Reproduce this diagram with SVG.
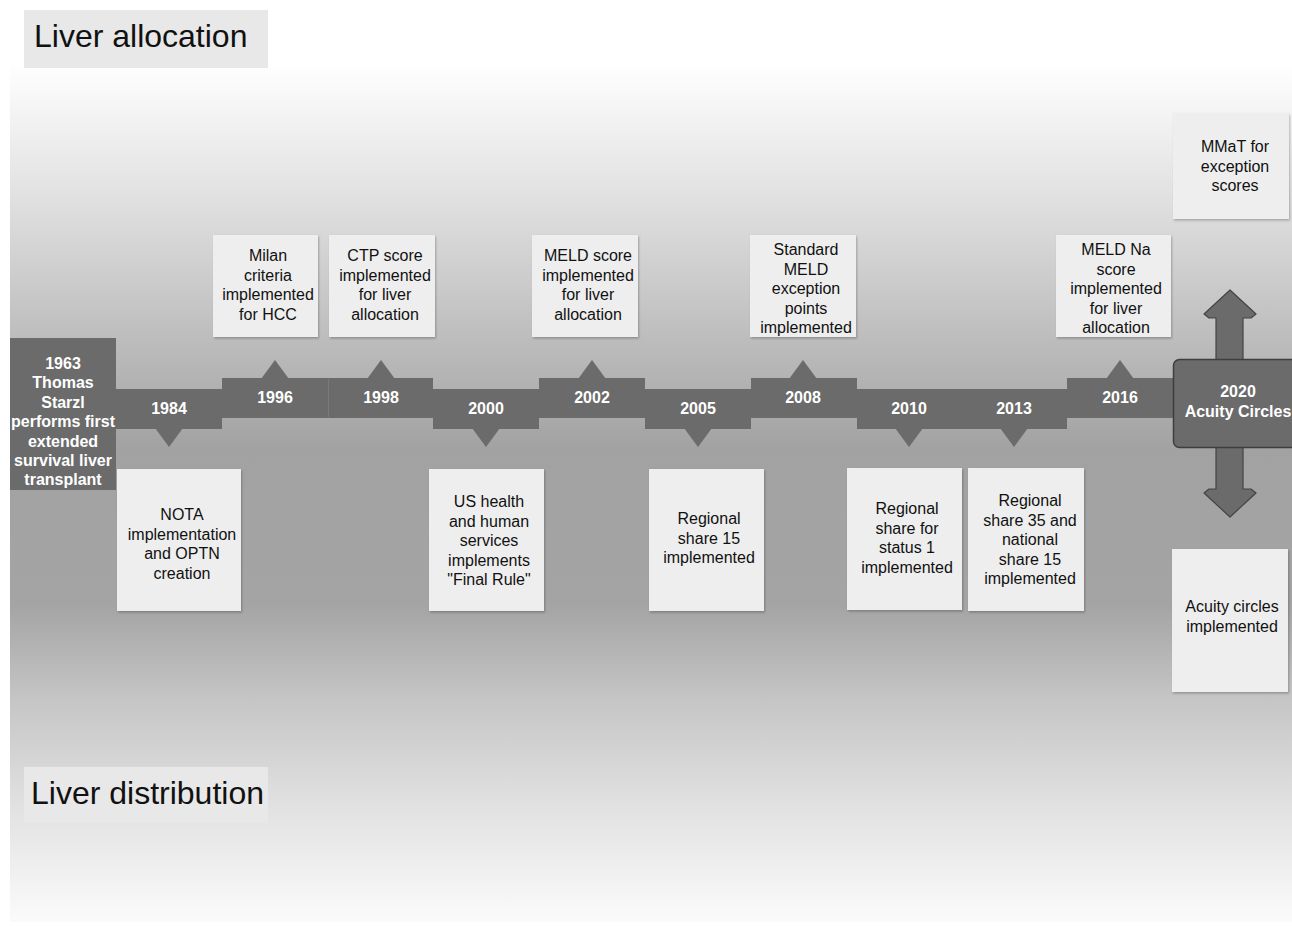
<svg xmlns="http://www.w3.org/2000/svg" width="1292" height="926" viewBox="0 0 1292 926">
  <defs>
    <linearGradient id="bg" gradientUnits="userSpaceOnUse" x1="0" y1="63" x2="0" y2="922">
      <stop offset="0" stop-color="#ffffff"/>
      <stop offset="0.16" stop-color="#e0e0e0"/>
      <stop offset="0.32" stop-color="#bdbdbd"/>
      <stop offset="0.45" stop-color="#a2a2a2"/>
      <stop offset="0.63" stop-color="#a4a4a4"/>
      <stop offset="0.74" stop-color="#c5c5c5"/>
      <stop offset="0.86" stop-color="#e0e0e0"/>
      <stop offset="1" stop-color="#fbfbfb"/>
    </linearGradient>
    <filter id="sh" x="-10%" y="-10%" width="125%" height="125%">
      <feDropShadow dx="1" dy="1.5" stdDeviation="1.2" flood-color="#000" flood-opacity="0.25"/>
    </filter>
  </defs>
  <style>
    .box { fill: #eeeeee; filter: url(#sh); }
    .title { fill: #e8e8e8; }
    .tl { fill: #6b6b6b; }
    .t { font-family: "Liberation Sans", Arial, sans-serif; font-size: 16px; fill: #111; text-anchor: middle; }
    .w { font-family: "Liberation Sans", Arial, sans-serif; font-size: 16px; font-weight: bold; fill: #ffffff; text-anchor: middle; }
    .big { font-family: "Liberation Sans", Arial, sans-serif; font-size: 32px; fill: #111; }
  </style>
  <rect x="0" y="0" width="1292" height="926" fill="#ffffff"/>
  <rect x="10" y="63" width="1282" height="859" fill="url(#bg)"/>

  <g id="title-allocation">
    <rect class="title" x="24" y="10" width="244" height="58"/>
    <text class="big" x="34" y="47">Liver allocation</text>
  </g>
  <g id="title-distribution">
    <rect class="title" x="24" y="767" width="244" height="56"/>
    <text class="big" x="31" y="804">Liver distribution</text>
  </g>

  <g id="connectors">
    <!-- timeline segments -->
    <rect class="tl" x="116" y="389" width="106" height="40"/>
    <polygon class="tl" points="155,428 183,428 169,447"/>
    <rect class="tl" x="222" y="378" width="211" height="40"/>
    <polygon class="tl" points="261,379 289,379 275,360"/>
    <polygon class="tl" points="367,379 395,379 381,360"/>
    <line x1="328.5" y1="379" x2="328.5" y2="417" stroke="#7a7a7a" stroke-width="1"/>
    <rect class="tl" x="433" y="389" width="106" height="40"/>
    <polygon class="tl" points="472,428 500,428 486,447"/>
    <rect class="tl" x="539" y="378" width="106" height="40"/>
    <polygon class="tl" points="578,379 606,379 592,360"/>
    <rect class="tl" x="645" y="389" width="106" height="40"/>
    <polygon class="tl" points="684,428 712,428 698,447"/>
    <rect class="tl" x="751" y="378" width="106" height="40"/>
    <polygon class="tl" points="789,379 817,379 803,360"/>
    <rect class="tl" x="857" y="389" width="210" height="40"/>
    <polygon class="tl" points="895,428 923,428 909,447"/>
    <polygon class="tl" points="1000,428 1028,428 1014,447"/>
    <rect class="tl" x="1067" y="378" width="107" height="40"/>
    <polygon class="tl" points="1106,379 1134,379 1120,360"/>
    <!-- double arrow -->
    <polygon points="1230,290 1256,314 1251,318 1243,318 1243,360 1216,360 1216,318 1209,318 1204,314" fill="#6b6b6b" stroke="#444" stroke-width="1.2" stroke-linejoin="round"/>
    <polygon points="1230,517 1256,493 1251,489 1243,489 1243,447 1216,447 1216,489 1209,489 1204,493" fill="#6b6b6b" stroke="#444" stroke-width="1.2" stroke-linejoin="round"/>
  </g>

  <g id="y1963">
    <rect class="tl" x="10" y="338" width="106" height="152"/>
    <text class="w" x="63" y="369">1963<tspan x="63" dy="19.4">Thomas</tspan><tspan x="63" dy="19.4">Starzl</tspan><tspan x="63" dy="19.4">performs first</tspan><tspan x="63" dy="19.4">extended</tspan><tspan x="63" dy="19.4">survival liver</tspan><tspan x="63" dy="19.4">transplant</tspan></text>
  </g>

  <g id="years">
    <text class="w" x="169" y="414">1984</text>
    <text class="w" x="275" y="403">1996</text>
    <text class="w" x="381" y="403">1998</text>
    <text class="w" x="486" y="414">2000</text>
    <text class="w" x="592" y="403">2002</text>
    <text class="w" x="698" y="414">2005</text>
    <text class="w" x="803" y="403">2008</text>
    <text class="w" x="909" y="414">2010</text>
    <text class="w" x="1014" y="414">2013</text>
    <text class="w" x="1120" y="403">2016</text>
  </g>

  <g id="y2020">
    <rect x="1173.5" y="359.5" width="130" height="88" rx="6" fill="#6b6b6b" stroke="#3e3e3e" stroke-width="1.5"/>
    <text class="w" x="1238" y="397">2020<tspan x="1238" dy="20">Acuity Circles</tspan></text>
  </g>

  <g id="milan">
    <rect class="box" x="213" y="235" width="105" height="102"/>
    <text class="t" x="268" y="261">Milan<tspan x="268" dy="19.5">criteria</tspan><tspan x="268" dy="19.5">implemented</tspan><tspan x="268" dy="19.5">for HCC</tspan></text>
  </g>
  <g id="ctp">
    <rect class="box" x="329" y="235" width="106" height="102"/>
    <text class="t" x="385" y="261">CTP score<tspan x="385" dy="19.5">implemented</tspan><tspan x="385" dy="19.5">for liver</tspan><tspan x="385" dy="19.5">allocation</tspan></text>
  </g>
  <g id="meld">
    <rect class="box" x="532" y="235" width="106" height="102"/>
    <text class="t" x="588" y="261">MELD score<tspan x="588" dy="19.5">implemented</tspan><tspan x="588" dy="19.5">for liver</tspan><tspan x="588" dy="19.5">allocation</tspan></text>
  </g>
  <g id="standard-meld">
    <rect class="box" x="750" y="235" width="106" height="102"/>
    <text class="t" x="806" y="255">Standard<tspan x="806" dy="19.5">MELD</tspan><tspan x="806" dy="19.5">exception</tspan><tspan x="806" dy="19.5">points</tspan><tspan x="806" dy="19.5">implemented</tspan></text>
  </g>
  <g id="meld-na">
    <rect class="box" x="1056" y="235" width="115" height="102"/>
    <text class="t" x="1116" y="255">MELD Na<tspan x="1116" dy="19.5">score</tspan><tspan x="1116" dy="19.5">implemented</tspan><tspan x="1116" dy="19.5">for liver</tspan><tspan x="1116" dy="19.5">allocation</tspan></text>
  </g>
  <g id="mmat">
    <rect class="box" x="1173" y="113" width="116" height="106"/>
    <text class="t" x="1235" y="152">MMaT for<tspan x="1235" dy="19.5">exception</tspan><tspan x="1235" dy="19.5">scores</tspan></text>
  </g>

  <g id="nota">
    <rect class="box" x="117" y="469" width="124" height="142"/>
    <text class="t" x="182" y="520">NOTA<tspan x="182" dy="19.5">implementation</tspan><tspan x="182" dy="19.5">and OPTN</tspan><tspan x="182" dy="19.5">creation</tspan></text>
  </g>
  <g id="final-rule">
    <rect class="box" x="429" y="469" width="115" height="142"/>
    <text class="t" x="489" y="507">US health<tspan x="489" dy="19.5">and human</tspan><tspan x="489" dy="19.5">services</tspan><tspan x="489" dy="19.5">implements</tspan><tspan x="489" dy="19.5">"Final Rule"</tspan></text>
  </g>
  <g id="regional-15">
    <rect class="box" x="649" y="469" width="115" height="142"/>
    <text class="t" x="709" y="524">Regional<tspan x="709" dy="19.5">share 15</tspan><tspan x="709" dy="19.5">implemented</tspan></text>
  </g>
  <g id="status-1">
    <rect class="box" x="847" y="468" width="115" height="142"/>
    <text class="t" x="907" y="514">Regional<tspan x="907" dy="19.5">share for</tspan><tspan x="907" dy="19.5">status 1</tspan><tspan x="907" dy="19.5">implemented</tspan></text>
  </g>
  <g id="regional-35">
    <rect class="box" x="968" y="468" width="116" height="143"/>
    <text class="t" x="1030" y="506">Regional<tspan x="1030" dy="19.5">share 35 and</tspan><tspan x="1030" dy="19.5">national</tspan><tspan x="1030" dy="19.5">share 15</tspan><tspan x="1030" dy="19.5">implemented</tspan></text>
  </g>
  <g id="acuity">
    <rect class="box" x="1172" y="549" width="116" height="143"/>
    <text class="t" x="1232" y="612">Acuity circles<tspan x="1232" dy="19.5">implemented</tspan></text>
  </g>
</svg>
